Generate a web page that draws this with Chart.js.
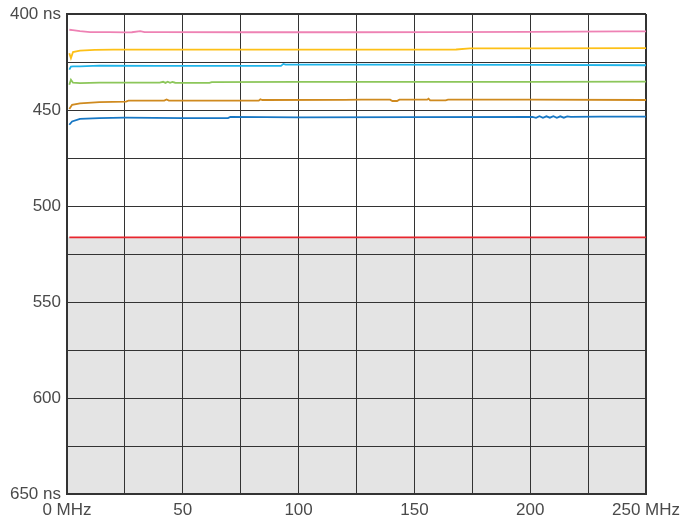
<!DOCTYPE html>
<html>
<head>
<meta charset="utf-8">
<script src="https://cdn.jsdelivr.net/npm/chart.js@4.4.1/dist/chart.umd.min.js"></script>
<style>
  html, body { margin: 0; padding: 0; background: #ffffff; }
  #wrap { width: 680px; height: 519px; position: relative; }
</style>
</head>
<body>
<div id="wrap"><canvas id="c"></canvas></div>
<script>
// ---- axis ticks ----
const xTickValues = [0, 50, 100, 150, 200, 250];
const xTickText = ['0 MHz', '50', '100', '150', '200', '250 MHz'];
const yTickValues = [400, 450, 500, 550, 600, 650];
const yTickText = ['400 ns', '450', '500', '550', '600', '650 ns'];

// ---- series (frequency in MHz, delay in ns) ----
const pinkMHz = [1, 2.5, 5.6, 10, 18, 25.5, 28, 31.6, 33.5, 40, 80, 120, 160, 200, 240, 250];
const pinkNs  = [408.2, 408.4, 408.9, 409.4, 409.4, 409.6, 409.5, 408.9, 409.4, 409.4, 409.5, 409.5, 409.4, 409.3, 409.1, 409.1];

const yellowMHz = [1, 1.7, 2.6, 5.6, 12, 20, 60, 100, 150, 168, 174, 200, 250];
const yellowNs  = [420.4, 423, 419.8, 419.1, 418.7, 418.6, 418.6, 418.6, 418.6, 418.5, 417.9, 417.9, 417.8];

const cyanMHz = [1, 1.7, 2.6, 5.6, 14, 40, 92.4, 93.4, 94.4, 120, 200, 250];
const cyanNs  = [429, 427.4, 427.3, 427.3, 426.9, 427, 427, 426.0, 426.4, 426.4, 426.5, 426.7];

const greenMHz = [1, 1.7, 2.6, 5.6, 14, 40, 41.5, 42.5, 43.5, 44.5, 45.5, 46.7, 61.5, 62.5, 100, 200, 250];
const greenNs  = [436.8, 434.2, 435.8, 436, 435.7, 435.7, 435.3, 435.9, 435.3, 435.8, 435.4, 435.8, 435.9, 435.5, 435.4, 435.3, 435.2];

const brownMHz = [1, 2.2, 5.6, 14, 25.5, 26.5, 42, 43, 44, 82.8, 83.5, 84.3, 120, 127, 139.5, 140.5, 142.5, 143.5, 155.5, 156.1, 156.8, 163.5, 164.5, 200, 250];
const brownNs  = [449.5, 447.3, 446.5, 445.9, 445.6, 445.1, 445.1, 444.5, 445.1, 445.1, 444.4, 444.8, 444.7, 444.6, 444.6, 445.3, 445.3, 444.6, 444.6, 444.1, 445, 445, 444.6, 444.6, 444.8];

const blueMHz = [1, 2.2, 5.6, 14, 25, 50, 69.5, 70.5, 100, 150, 201, 202.5, 204, 205.5, 207, 208.5, 210, 211.5, 213, 214.5, 216, 217.5, 230, 250];
const blueNs  = [457.7, 456, 454.6, 454.2, 454, 454.2, 454.2, 453.6, 453.8, 453.7, 453.6, 454.1, 453.2, 454.1, 453.3, 454.0, 453.2, 454.1, 453.3, 454.0, 453.3, 453.6, 453.5, 453.5];

// limit line and shaded region (ns)
const limitMHz = [1, 250];
const limitNs = [516.3, 516.3];
const shadeFromNs = [516.3];

const xMin = 0, xMax = 250, xStep = 25;
const yMin = 400, yMax = 650, yStep = 25;

function pts(xs, ys) { return xs.map((x, i) => ({ x: x, y: ys[i] })); }

function lineDs(xs, ys, color) {
  return {
    data: pts(xs, ys),
    borderColor: color,
    borderWidth: 1.8,
    pointRadius: 0,
    tension: 0,
    fill: false
  };
}

// shaded region below the limit, painted under the grid using the y scale
const shadePlugin = {
  id: 'shade',
  beforeDraw(chart) {
    const { ctx, chartArea, scales } = chart;
    const yTop = scales.y.getPixelForValue(shadeFromNs[0]);
    const yBot = scales.y.getPixelForValue(yMax);
    ctx.save();
    ctx.fillStyle = '#e4e4e4';
    ctx.fillRect(chartArea.left, yTop, chartArea.right - chartArea.left, yBot - yTop);
    ctx.restore();
  }
};

const FONT = { family: "'Liberation Sans', Arial, sans-serif", size: 17 };
const TXT = '#4a4a4a';
const GRID = '#333333';

new Chart(document.getElementById('c'), {
  type: 'line',
  data: {
    datasets: [
      lineDs(limitMHz, limitNs, '#e8262e'),
      lineDs(pinkMHz, pinkNs, '#ee82b4'),
      lineDs(yellowMHz, yellowNs, '#fdc017'),
      lineDs(cyanMHz, cyanNs, '#1fb5ea'),
      lineDs(greenMHz, greenNs, '#8cc65a'),
      lineDs(brownMHz, brownNs, '#cf8a1f'),
      lineDs(blueMHz, blueNs, '#1777c4')
    ]
  },
  plugins: [shadePlugin],
  options: {
    responsive: true,
    maintainAspectRatio: false,
    animation: false,
    devicePixelRatio: 1,
    layout: { padding: { left: 0, top: 14, right: 34, bottom: 0 } },
    plugins: { legend: { display: false }, tooltip: { enabled: false } },
    scales: {
      x: {
        type: 'linear',
        min: xMin, max: xMax,
        afterFit: (s) => { s.height = 25; s.paddingLeft = 0; s.paddingRight = 0; },
        afterBuildTicks: (s) => {
          const t = [];
          for (let v = xMin; v <= xMax; v += xStep) t.push({ value: v });
          s.ticks = t;
        },
        ticks: {
          autoSkip: false,
          maxRotation: 0,
          padding: 6,
          font: FONT,
          color: TXT,
          callback: (v) => { const i = xTickValues.indexOf(v); return i >= 0 ? xTickText[i] : ''; }
        },
        grid: {
          drawTicks: false,
          color: GRID,
          lineWidth: (ctx) => (ctx.tick && ctx.tick.value === xMax ? 2 : 1)
        },
        border: { display: true, color: GRID, width: 2 }
      },
      y: {
        type: 'linear',
        reverse: true,
        min: yMin, max: yMax,
        afterFit: (s) => { s.width = 67; s.paddingTop = 0; s.paddingBottom = 0; },
        afterBuildTicks: (s) => {
          const t = [];
          for (let v = yMin; v <= yMax; v += yStep) t.push({ value: v });
          s.ticks = t;
        },
        ticks: {
          autoSkip: false,
          padding: 6,
          font: FONT,
          color: TXT,
          callback: (v) => { const i = yTickValues.indexOf(v); return i >= 0 ? yTickText[i] : ''; }
        },
        grid: {
          drawTicks: false,
          color: GRID,
          lineWidth: (ctx) => (ctx.tick && ctx.tick.value === yMin ? 2 : 1)
        },
        border: { display: true, color: GRID, width: 2 }
      }
    }
  }
});
</script>
</body>
</html>
